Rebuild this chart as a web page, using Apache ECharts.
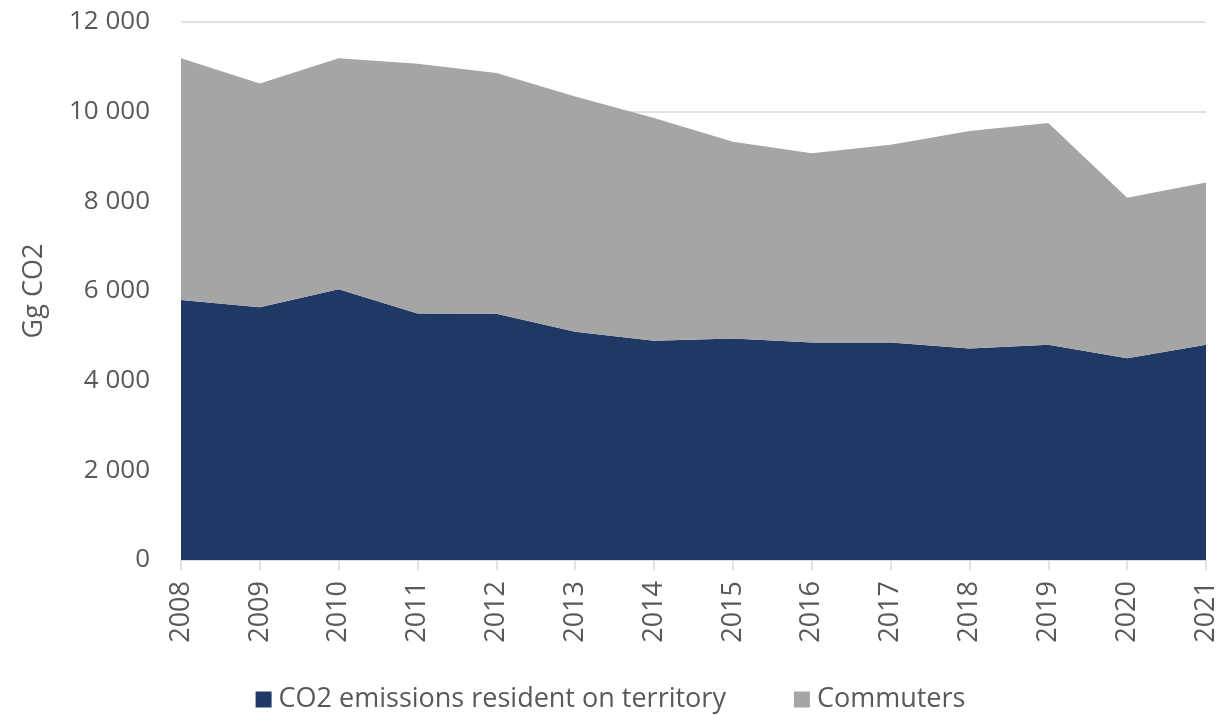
<!DOCTYPE html>
<html>
<head>
<meta charset="utf-8">
<script src="https://cdn.jsdelivr.net/npm/echarts@6/dist/echarts.min.js"></script>
<style>
  html, body { margin: 0; padding: 0; background: #fff; }
  #chart-container { width: 1221px; height: 715px; }
</style>
</head>
<body>
<div id="chart-container"></div>
<script>
var years = ['2008', '2009', '2010', '2011', '2012', '2013', '2014', '2015', '2016', '2017', '2018', '2019', '2020', '2021'];
var resident = [5800, 5640, 6040, 5500, 5490, 5090, 4890, 4940, 4850, 4850, 4720, 4800, 4500, 4800];
var commuters = [5390, 4990, 5150, 5570, 5370, 5250, 4970, 4390, 4220, 4410, 4850, 4950, 3580, 3620];

var dom = document.getElementById('chart-container');
var myChart = echarts.init(dom);
var option;

function fmt(v) {
  return String(v).replace(/\B(?=(\d{3})+(?!\d))/g, ' ');
}

option = {
  animation: false,
  textStyle: { fontFamily: 'Open Sans' },
  grid: { left: 181, right: 15, top: 22, bottom: 155 },
  legend: {
    bottom: -3,
    left: 'center',
    itemGap: 68,
    itemWidth: 16,
    itemHeight: 16,
    icon: 'rect',
    textStyle: { color: '#595959', fontSize: 27, padding: [0, 0, 0, 2] },
    data: ['CO2 emissions resident on territory', 'Commuters']
  },
  xAxis: {
    type: 'category',
    boundaryGap: false,
    data: years,
    axisLine: { lineStyle: { color: '#D9D9D9', width: 1.5 } },
    axisTick: { show: true, length: 10, lineStyle: { color: '#D9D9D9', width: 1.5 } },
    axisLabel: { rotate: 90, color: '#595959', fontSize: 27, margin: 21 }
  },
  yAxis: {
    type: 'value',
    min: 0,
    max: 12000,
    interval: 2000,
    name: 'Gg CO2',
    nameLocation: 'middle',
    nameGap: 133,
    nameTextStyle: { color: '#595959', fontSize: 27 },
    axisLine: { show: false },
    axisTick: { show: false },
    splitLine: { lineStyle: { color: '#D9D9D9', width: 1.5 } },
    axisLabel: { color: '#595959', fontSize: 26, margin: 31, formatter: fmt }
  },
  series: [
    {
      name: 'CO2 emissions resident on territory',
      type: 'line',
      stack: 'total',
      data: resident,
      symbol: 'none',
      lineStyle: { width: 0 },
      itemStyle: { color: '#203864' },
      areaStyle: { color: '#203864', opacity: 1 }
    },
    {
      name: 'Commuters',
      type: 'line',
      stack: 'total',
      data: commuters,
      symbol: 'none',
      lineStyle: { width: 0 },
      itemStyle: { color: '#A5A5A5' },
      areaStyle: { color: '#A5A5A5', opacity: 1 }
    }
  ]
};

if (option && typeof option === 'object') {
  myChart.setOption(option);
}

window.addEventListener('resize', myChart.resize);
</script>
</body>
</html>
